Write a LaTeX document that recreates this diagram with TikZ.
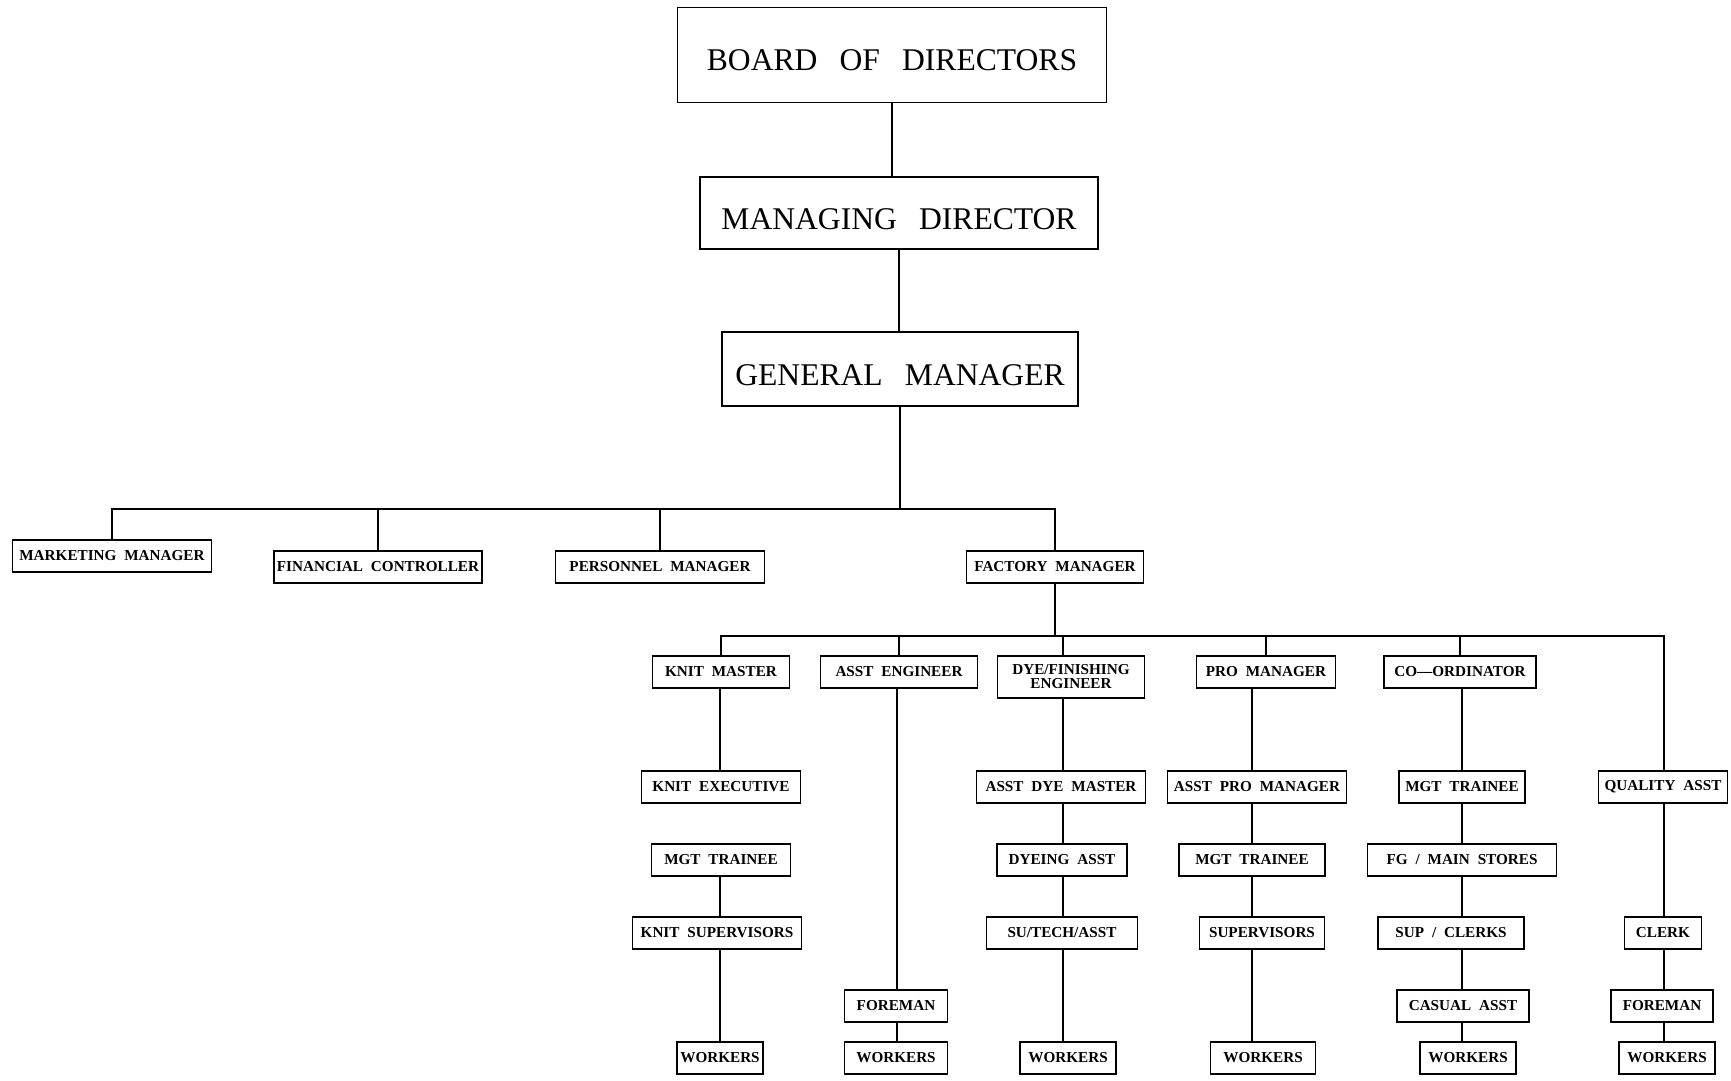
\documentclass[tikz,border=0pt]{standalone}
\usepackage{fontspec}
\setmainfont{Liberation Serif}
\tikzset{>=stealth}

\newcommand{\headfont}{\fontsize{15.8}{18}\selectfont\spaceskip=0.7em\relax}
\newcommand{\postfont}{\fontsize{7.6}{7}\selectfont\bfseries\spaceskip=0.52em\relax}

\begin{document}
\begin{tikzpicture}[x=0.5pt, y=-0.5pt, line width=0.9pt,
    head/.style={draw, font=\headfont, inner sep=0pt, text height=16pt, text depth=0pt},
    post/.style={draw, font=\postfont, inner sep=0pt, minimum height=16pt, align=center}]

    \useasboundingbox (0,0) rectangle (1731,1081);

    % top of the chart
    \node[head, minimum width=214.5pt, minimum height=47.5pt] (BD) at (892,55)  {BOARD OF DIRECTORS};
    \node[head, minimum width=199pt, minimum height=36pt]     (MD) at (899,213) {MANAGING DIRECTOR};
    \node[head, minimum width=178pt, minimum height=37pt]     (GM) at (900,369) {GENERAL MANAGER};

    % managers
    \node[post, minimum width=99.5pt]  (MM) at (112,556)  {MARKETING MANAGER};
    \node[post, minimum width=104pt]   (FC) at (378,567)  {FINANCIAL CONTROLLER};
    \node[post, minimum width=104.5pt] (PM) at (660,567)  {PERSONNEL MANAGER};
    \node[post, minimum width=88.5pt]  (FM) at (1055,567) {FACTORY MANAGER};

    % heads of sections
    \node[post, minimum width=68.5pt] (KM) at (721,672)  {KNIT MASTER};
    \node[post, minimum width=78.5pt] (AE) at (899,672)  {ASST ENGINEER};
    \node[post, minimum width=73.5pt, minimum height=21pt] (DF) at (1071,677) {DYE/FINISHING\\ENGINEER};
    \node[post, minimum width=69.5pt] (PR) at (1266,672) {PRO MANAGER};
    \node[post, minimum width=76pt]   (CO) at (1460,672) {CO---ORDINATOR};

    % knitting
    \node[post, minimum width=79.5pt] (KE)  at (721,787)  {KNIT EXECUTIVE};
    \node[post, minimum width=69.5pt] (MT1) at (721,860)  {MGT TRAINEE};
    \node[post, minimum width=84.5pt] (KS)  at (717,933)  {KNIT SUPERVISORS};
    \node[post, minimum width=43pt]   (W1)  at (720,1058) {WORKERS};

    % engineering
    \node[post, minimum width=51.5pt] (FM2) at (896,1006) {FOREMAN};
    \node[post, minimum width=51.5pt] (W2)  at (896,1058) {WORKERS};

    % dyeing
    \node[post, minimum width=84.5pt] (ADM) at (1061,787)  {ASST DYE MASTER};
    \node[post, minimum width=65pt]   (DA)  at (1062,860)  {DYEING ASST};
    \node[post, minimum width=75.5pt] (STA) at (1062,933)  {SU/TECH/ASST};
    \node[post, minimum width=48pt]   (W3)  at (1068,1058) {WORKERS};

    % production
    \node[post, minimum width=89.5pt] (APM) at (1257,787)  {ASST PRO MANAGER};
    \node[post, minimum width=73pt]   (MT2) at (1252,860)  {MGT TRAINEE};
    \node[post, minimum width=62.5pt] (SUP) at (1262,933)  {SUPERVISORS};
    \node[post, minimum width=52.5pt] (W4)  at (1263,1058) {WORKERS};

    % co-ordination
    \node[post, minimum width=63pt]   (MT3) at (1462,787)  {MGT TRAINEE};
    \node[post, minimum width=94.5pt] (FGS) at (1462,860)  {FG / MAIN STORES};
    \node[post, minimum width=73pt]   (SC)  at (1451,933)  {SUP / CLERKS};
    \node[post, minimum width=66pt]   (CA)  at (1463,1006) {CASUAL ASST};
    \node[post, minimum width=48pt]   (W5)  at (1468,1058) {WORKERS};

    % quality
    \node[post, minimum width=64.5pt] (QA)  at (1663,787)  {QUALITY ASST};
    \node[post, minimum width=38.5pt] (CL)  at (1663,933)  {CLERK};
    \node[post, minimum width=51pt]   (FM3) at (1662,1006) {FOREMAN};
    \node[post, minimum width=48pt]   (W6)  at (1667,1058) {WORKERS};

    \coordinate (bar1) at (0,509);
    \coordinate (bar2) at (0,636);
    \coordinate (c1) at (720,0);
    \coordinate (c2) at (897,0);
    \coordinate (c3) at (1063,0);
    \coordinate (c4) at (1252,0);
    \coordinate (c5) at (1462,0);
    \coordinate (c6) at (1664,0);

    \draw (BD.south) -- (BD.south |- MD.north);
    \draw (MD.south) -- (MD.south |- GM.north);
    \draw (GM.south) -- (GM.south |- bar1);

    \draw (MM.north) -- (MM.north |- bar1) -- (FM.north |- bar1) -- (FM.north);
    \draw (FC.north) -- (FC.north |- bar1);
    \draw (PM.north) -- (PM.north |- bar1);

    \draw (FM.south) -- (FM.south |- bar2);
    \draw (KM.north) -- (KM.north |- bar2) -- (bar2 -| c6) -- (QA.north -| c6);
    \draw (AE.north) -- (AE.north |- bar2);
    \draw (DF.north -| c3) -- (bar2 -| c3);
    \draw (PR.north) -- (PR.north |- bar2);
    \draw (CO.north) -- (CO.north |- bar2);

    \draw (KM.south -| c1) -- (KE.north -| c1);
    \draw (MT1.south -| c1) -- (KS.north -| c1);
    \draw (KS.south -| c1) -- (W1.north -| c1);

    \draw (AE.south -| c2) -- (FM2.north -| c2);
    \draw (FM2.south -| c2) -- (W2.north -| c2);

    \draw (DF.south -| c3) -- (ADM.north -| c3);
    \draw (ADM.south -| c3) -- (DA.north -| c3);
    \draw (DA.south -| c3) -- (STA.north -| c3);
    \draw (STA.south -| c3) -- (W3.north -| c3);

    \draw (PR.south -| c4) -- (APM.north -| c4);
    \draw (APM.south -| c4) -- (MT2.north -| c4);
    \draw (MT2.south -| c4) -- (SUP.north -| c4);
    \draw (SUP.south -| c4) -- (W4.north -| c4);

    \draw (CO.south -| c5) -- (MT3.north -| c5);
    \draw (MT3.south -| c5) -- (FGS.north -| c5);
    \draw (FGS.south -| c5) -- (SC.north -| c5);
    \draw (SC.south -| c5) -- (CA.north -| c5);
    \draw (CA.south -| c5) -- (W5.north -| c5);

    \draw (QA.south -| c6) -- (CL.north -| c6);
    \draw (CL.south -| c6) -- (FM3.north -| c6);
    \draw (FM3.south -| c6) -- (W6.north -| c6);

\end{tikzpicture}
\end{document}
